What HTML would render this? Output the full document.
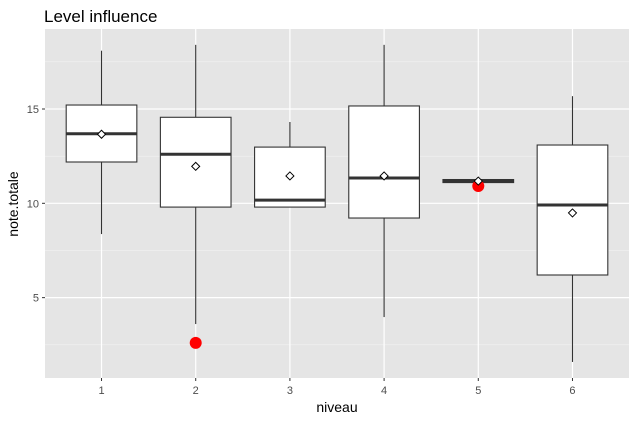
<!DOCTYPE html>
<html><head><meta charset="utf-8"><style>
body{margin:0;background:#fff;font-family:"Liberation Sans",sans-serif}
svg text{font-family:"Liberation Sans",sans-serif}
</style></head><body>
<svg id="chart" width="636" height="419" xmlns="http://www.w3.org/2000/svg">
<text x="44" y="22" font-size="17" fill="#000">Level influence</text>
<rect x="45" y="29" width="584" height="349" fill="#e5e5e5"/>
<g id="grid"></g><g id="boxes"></g><g id="axes"></g>
<text x="337" y="412" font-size="14" text-anchor="middle">niveau</text>
<text transform="translate(18,204) rotate(-90)" font-size="14" text-anchor="middle">note.totale</text>
</svg>
<script>
const categories=["1","2","3","4","5","6"];
const ymin=[8.37,3.6,9.8,3.97,11.18,1.59];
const q1=[12.19,9.8,9.8,9.22,11.1,6.2];
const med=[13.69,12.6,10.17,11.34,11.18,9.91];
const q3=[15.21,14.56,12.98,15.16,11.26,13.09];
const ymax=[18.09,18.4,14.31,18.4,11.18,15.68];
const means=[13.66,11.96,11.45,11.45,11.18,9.49];
const outlierCat=[2,5];
const outlierVal=[2.6,10.92];
const yTicks=[5,10,15];
const yMinor=[2.5,7.5,12.5,17.5];
const NS="http://www.w3.org/2000/svg";
const L=45,R=629,T=29,B=378,V0=0.74,V1=19.24;
const y=v=>B-(v-V0)/(V1-V0)*(B-T);
const X0=0.4,X1=6.6;
const x=i=>L+((i+1)-X0)/(X1-X0)*(R-L);
const bw=0.75*(R-L)/(X1-X0);
function mk(tag,a,p){const e=document.createElementNS(NS,tag);for(const k in a)e.setAttribute(k,a[k]);p.appendChild(e);return e;}
const g=document.getElementById('grid'),bx=document.getElementById('boxes'),ax=document.getElementById('axes');
yMinor.forEach(v=>{const e=mk('line',{x1:L,x2:R,y1:y(v),y2:y(v),stroke:'#f2f2f2','stroke-width':0.6},g);

});
yTicks.forEach(v=>{const e=mk('line',{x1:L,x2:R,y1:y(v),y2:y(v),stroke:'#fff','stroke-width':1.2},g);


const t=mk('text',{x:L-6,y:y(v)+4,'font-size':11,fill:'#4d4d4d','text-anchor':'end'},ax);t.textContent=v;


mk('line',{x1:L-3,x2:L,y1:y(v),y2:y(v),stroke:'#333'},ax);});
categories.forEach((c,i)=>{const cx=x(i);
const e=mk('line',{x1:cx,x2:cx,y1:T,y2:B,stroke:'#fff','stroke-width':1.2},g);


const t=mk('text',{x:cx,y:B+16,'font-size':11,fill:'#4d4d4d','text-anchor':'middle'},ax);t.textContent=c;


mk('line',{x1:cx,x2:cx,y1:B,y2:B+3,stroke:'#333'},ax);
const grp=mk('g',{},bx);


mk('line',{x1:cx,x2:cx,y1:y(ymax[i]),y2:y(q3[i]),stroke:'#333','stroke-width':1.1},grp);
mk('line',{x1:cx,x2:cx,y1:y(q1[i]),y2:y(ymin[i]),stroke:'#333','stroke-width':1.1},grp);
mk('rect',{x:cx-bw/2,y:y(q3[i]),width:bw,height:Math.max(0.5,y(q1[i])-y(q3[i])),fill:'#fff',stroke:'#333','stroke-width':1.1},grp);
mk('line',{x1:cx-bw/2,x2:cx+bw/2,y1:y(med[i]),y2:y(med[i]),stroke:'#333','stroke-width':3},grp);
});
outlierCat.forEach((c,k)=>{const e=mk('circle',{cx:x(c-1),cy:y(outlierVal[k]),r:6,fill:'#ff0000'},bx);

});
means.forEach((m,i)=>{const cx=x(i),cy=y(m),s=4;
const e=mk('polygon',{points:`${cx},${cy-s} ${cx+s},${cy} ${cx},${cy+s} ${cx-s},${cy}`,fill:'#fff',stroke:'#000','stroke-width':1},bx);

});
</script>
</body></html>
